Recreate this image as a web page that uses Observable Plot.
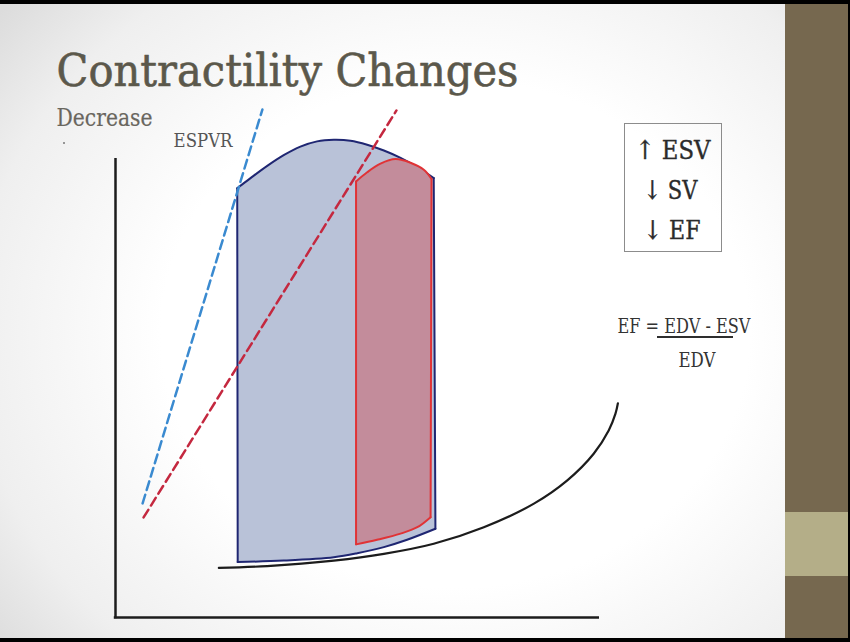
<!DOCTYPE html>
<html><head><meta charset="utf-8">
<script src="https://cdn.jsdelivr.net/npm/d3@7"></script>
<script src="https://cdn.jsdelivr.net/npm/@observablehq/plot@0.6"></script>
<style>
html,body{margin:0;padding:0;background:#000;}
#stage{position:relative;width:850px;height:642px;overflow:hidden;background:#000;}
.slide{position:absolute;left:0;top:4px;width:785px;height:634px;background:radial-gradient(ellipse 75% 80% at 58% 52%, #ffffff 50%, #efefef 82%, #dcdcdc 100%);}
.side{position:absolute;left:785px;top:4px;width:63px;height:634px;background:#76684f;}
.band{position:absolute;left:785px;top:512px;width:63px;height:64px;background:#b4ae88;}
.box{position:absolute;left:624px;top:123px;width:96px;height:127px;border:1.3px solid #8c8c8c;}
.frac{position:absolute;left:657px;top:336px;width:76px;height:1.6px;background:#2e2e2e;}
.dot{position:absolute;left:63px;top:142px;width:2px;height:2px;border-radius:50%;background:#777;}
#chart{position:absolute;left:0;top:0;}
</style></head><body>
<div id="stage">
  <div class="slide"></div><div class="side"></div><div class="band"></div>
  <div class="box"></div><div class="frac"></div><div class="dot"></div>
  <div id="chart"></div>
</div>
<script>
// Volume (mL) and pressure (mmHg)
const blueFilling     = [[50.5,18.1],[69.5,18.6],[90.2,19.7],[99.9,21.0],[110.9,23.0],[120.5,25.4],[132.2,29.0]];
const blueContraction = [[132.2,29.0],[131.5,143.6]];
const blueEjection    = [[131.5,143.6],[124.7,147.2],[117.8,150.2],[110.9,152.6],[104.0,154.5],[97.1,155.8],[90.2,156.1],[83.3,155.6],[76.4,153.9],[69.5,151.1],[62.7,147.6],[55.8,143.6],[50.3,140.3]];
const blueRelaxation  = [[50.3,140.3],[50.5,18.1]];

const redFilling      = [[99.4,23.9],[108.1,25.4],[117.8,27.4],[124.7,29.5],[130.2,32.8]];
const redContraction  = [[130.2,32.8],[130.6,143.3]];
const redEjection     = [[130.6,143.3],[127.4,146.3],[121.9,148.6],[115.7,149.8],[109.5,148.3],[104.0,145.5],[99.4,142.5]];
const redRelaxation   = [[99.4,142.5],[99.4,23.9]];

const edpvr = [[42.7,16.2],[62.7,16.8],[90.2,18.6],[110.9,20.8],[131.5,24.1],[152.2,29.5],[172.9,37.2],[186.7,44.8],[197.6,53.5],[203.8,61.1],[206.6,66.6],[207.6,70.0]];
const espvrControl   = [[11.2,37.3],[60.7,166.0]];
const espvrDecreased = [[11.6,32.7],[116.1,165.7]];

const axisMax = {V: 200, P: 150};

const titleText = "Contractility Changes";
const subtitleText = "Decrease";
const espvrLabel = "ESPVR";
const boxLines = ["↑ ESV", "↓ SV", "↓ EF"];
const formulaTop = "EF = EDV - ESV";
const formulaBottom = "EDV";

function segments(name, segs) {
  const out = [];
  segs.forEach((s, i) => s.forEach(([V, P]) => out.push({loop: name, seg: name + i, V, P})));
  return out;
}
const blueSegs = segments("blue", [blueFilling, blueContraction, blueEjection, blueRelaxation]);
const redSegs  = segments("red",  [redFilling, redContraction, redEjection, redRelaxation]);
const blueOutline = [...blueFilling, ...blueContraction, ...blueEjection, ...blueRelaxation].map(([V,P]) => ({V,P}));
const redOutline  = [...redFilling, ...redContraction, ...redEjection, ...redRelaxation].map(([V,P]) => ({V,P}));
const pts = a => a.map(([V,P]) => ({V,P}));

const serif = "DejaVu Serif, Liberation Serif, serif";
const slideText = (str, dx, dy, size, fill, weight = 0) => Plot.text([str], {
  text: d => d, frameAnchor: "top-left", dx, dy, textAnchor: "start", lineAnchor: "bottom",
  fontSize: size, fill, fontFamily: serif, stroke: weight ? fill : undefined, strokeWidth: weight || undefined
});

const chart = Plot.plot({
  width: 850, height: 642, margin: 0,
  x: {domain: [0, axisMax.V], range: [115, 599], axis: null},
  y: {domain: [0, axisMax.P], range: [617, 158], axis: null},
  style: {background: "transparent", overflow: "visible"},
  marks: [
    // axes
    Plot.ruleX([0], {y1: -0.4, y2: axisMax.P, stroke: "#1c1c1c", strokeWidth: 2.5}),
    Plot.ruleY([0], {x1: -0.5, x2: axisMax.V, stroke: "#1c1c1c", strokeWidth: 2.5}),
    // EDPVR
    Plot.line(pts(edpvr), {x: "V", y: "P", stroke: "#1c1c1c", strokeWidth: 2.2, curve: "catmull-rom"}),
    // loops
    Plot.line(blueOutline, {x: "V", y: "P", fill: "#b9c2d8", stroke: "none", curve: "linear"}),
    Plot.line(blueSegs, {x: "V", y: "P", z: "seg", stroke: "#1f2672", strokeWidth: 2, curve: "catmull-rom"}),
    Plot.line(redOutline, {x: "V", y: "P", fill: "#c38c9b", stroke: "none", curve: "linear"}),
    Plot.line(redSegs, {x: "V", y: "P", z: "seg", stroke: "#e03336", strokeWidth: 2, curve: "catmull-rom"}),
    // ESPVR dashed lines
    Plot.line(pts(espvrControl), {x: "V", y: "P", stroke: "#3a8ad0", strokeWidth: 2.5, strokeDasharray: "9,5"}),
    Plot.line(pts(espvrDecreased), {x: "V", y: "P", stroke: "#c4283f", strokeWidth: 2.5, strokeDasharray: "9,5"}),
    Plot.text([espvrLabel], {text: d => d, x: 24.0, y: 153.6, textAnchor: "start", lineAnchor: "bottom", fontSize: 19, fill: "#555", fontFamily: serif}),
    // slide text
    slideText(titleText, 56, 85, 45, "#5b584b", 0.6),
    slideText(subtitleText, 56, 125, 24.7, "#69665e", 0.2),
    slideText(boxLines[0], 635, 158, 26, "#2b2b2b", 0.4),
    slideText(boxLines[1], 643, 198, 26, "#2b2b2b", 0.4),
    slideText(boxLines[2], 643, 238, 26, "#2b2b2b", 0.4),
    slideText(formulaTop, 617, 332, 19.6, "#333"),
    slideText(formulaBottom, 678, 366, 19.6, "#333")
  ]
});

const widths = new Map([[titleText, 462], [subtitleText, 96], [espvrLabel, 59],
  [boxLines[0], 75], [boxLines[1], 54], [boxLines[2], 57], [formulaTop, 133], [formulaBottom, 37]]);
chart.querySelectorAll("text").forEach(t => {
  const w = widths.get(t.textContent);
  if (w) { t.setAttribute("textLength", w); t.setAttribute("lengthAdjust", "spacingAndGlyphs"); }
});
document.getElementById("chart").appendChild(chart);
</script>
</body></html>
